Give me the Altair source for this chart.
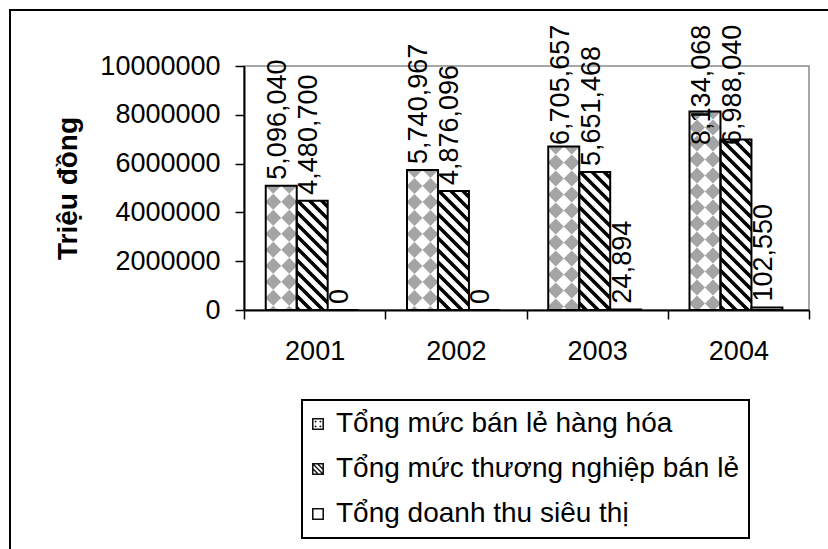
import altair as alt
import pandas as pd

# ---- data -------------------------------------------------------------
years = ["2001", "2002", "2003", "2004"]
series_names = [
    "Tổng mức bán lẻ hàng hóa",
    "Tổng mức thương nghiệp bán lẻ",
    "Tổng doanh thu siêu thị",
]
retail_goods = [5096040, 5740967, 6705657, 8134068]
retail_trade = [4480700, 4876096, 5651468, 6988040]
supermarket = [0, 0, 24894, 102550]
y_ticks = [0, 2000000, 4000000, 6000000, 8000000, 10000000]

rows = []
for name, vals in zip(series_names, [retail_goods, retail_trade, supermarket]):
    for yr, v in zip(years, vals):
        rows.append({"year": yr, "series": name, "value": v})
df = pd.DataFrame(rows)

FONT = "Liberation Sans, Arial, sans-serif"
LABEL_CAP = 6520000  # tall value labels stop growing upward here


# ---- fill patterns (symbol paths in pixel units, anchored at bar top) --
def clip_polygon(pts, x0, x1, y0, y1):
    def cut(points, inside, cross):
        out = []
        for i, cur in enumerate(points):
            prev = points[i - 1]
            if inside(cur):
                if not inside(prev):
                    out.append(cross(prev, cur))
                out.append(cur)
            elif inside(prev):
                out.append(cross(prev, cur))
        return out

    def at_x(k):
        return lambda p, q: (k, p[1] + (q[1] - p[1]) * (k - p[0]) / (q[0] - p[0]))

    def at_y(k):
        return lambda p, q: (p[0] + (q[0] - p[0]) * (k - p[1]) / (q[1] - p[1]), k)

    edges = [
        (lambda p: p[0] >= x0, at_x(x0)),
        (lambda p: p[0] <= x1, at_x(x1)),
        (lambda p: p[1] >= y0, at_y(y0)),
        (lambda p: p[1] <= y1, at_y(y1)),
    ]
    for inside, cross in edges:
        if not pts:
            break
        pts = cut(pts, inside, cross)
    return pts


def to_path(polys, digits=2):
    parts = []
    for poly in polys:
        if len(poly) >= 3:
            parts.append(
                "M" + "L".join(f"{x:.{digits}f},{y:.{digits}f}" for x, y in poly) + "Z"
            )
    return "".join(parts)


HALF_W, DEPTH = 15.5, 260

# diamond checkerboard
diamonds = []
for i in range(-2, 2):
    cx = 16 * i + 8
    for j in range(0, 18):
        cy = 16 * j
        d = [(cx, cy - 8), (cx + 8, cy), (cx, cy + 8), (cx - 8, cy)]
        diamonds.append(clip_polygon(d, -HALF_W, HALF_W, 0, DEPTH))
CHECKER = to_path(diamonds)

# diagonal hatching
stripes = []
for c in range(-36, 284, 12):
    s = [(-20, c - 20), (20, c + 20), (20, c + 25), (-20, c - 15)]
    stripes.append(clip_polygon(s, -HALF_W, HALF_W, 0, DEPTH))
HATCH = to_path(stripes)

# ---- legend icons (unit square, drawn with fill only) ------------------
RING = "M-1,-1L1,-1L1,1L-1,1ZM-0.74,-0.74L-0.74,0.74L0.74,0.74L0.74,-0.74Z"
icon_dots = []
for sx in (-1, 1):
    for sy in (-1, 1):
        cx, cy, r = 0.4 * sx, 0.4 * sy, 0.2
        icon_dots.append([(cx, cy - r), (cx + r, cy), (cx, cy + r), (cx - r, cy)])
icon_lines = []
for c in (-0.95, -0.15, 0.65):
    s = [(-2, c - 2), (2, c + 2), (2, c + 2.32), (-2, c - 1.68)]
    icon_lines.append(clip_polygon(s, -0.74, 0.74, -0.74, 0.74))
ICON_PATHS = [
    RING + to_path(icon_dots, 3),
    RING + to_path(icon_lines, 3),
    RING,
]

# ---- shared encodings ---------------------------------------------------
x_axis = alt.Axis(
    title=None, labelAngle=0, tickBand="extent", tickSize=9, tickColor="black",
    tickWidth=1.5, domainColor="black", domainWidth=2, labelFont=FONT,
    labelFontSize=27, labelColor="black", labelPadding=19, grid=False,
)
y_axis = alt.Axis(
    title="Triệu đồng", values=y_ticks, format="d", tickSize=9, tickColor="black",
    tickWidth=1.5, domainColor="black", domainWidth=2, labelFont=FONT,
    labelFontSize=27, labelColor="black", labelPadding=15, grid=False,
    titleFont=FONT, titleFontSize=28, titleFontWeight="bold", titleColor="black",
    titleX=-176, titleY=122, titleAngle=270, titleAlign="center",
    titleBaseline="middle",
)
x_scale = alt.Scale(paddingInner=0, paddingOuter=0)
off_scale = alt.Scale(domain=series_names, paddingInner=0, paddingOuter=0.78, align=0.45)
y_scale = alt.Scale(domain=[0, 10000000], nice=False)

x_enc = alt.X("year:N", scale=x_scale, axis=x_axis)
off_enc = alt.XOffset("series:N", scale=off_scale)
y_enc = alt.Y("value:Q", scale=y_scale, axis=y_axis)

base = alt.Chart(df)

bars = base.mark_bar(fill="white", strokeWidth=0).encode(
    x=x_enc, xOffset=off_enc, y=y_enc
)

checker = base.transform_filter(alt.datum.series == series_names[0]).mark_point(
    shape=CHECKER, size=4, filled=True, fill="#a4a4a4", strokeWidth=0,
    opacity=1, clip=True,
).encode(x=x_enc, xOffset=off_enc, y=y_enc)

hatch = base.transform_filter(alt.datum.series == series_names[1]).mark_point(
    shape=HATCH, size=4, filled=True, fill="black", strokeWidth=0,
    opacity=1, clip=True,
).encode(x=x_enc, xOffset=off_enc, y=y_enc)

outlines = base.mark_bar(fillOpacity=0, stroke="black", strokeWidth=2).encode(
    x=x_enc, xOffset=off_enc, y=y_enc
)

labels = base.transform_calculate(
    label_y=f"min(datum.value, {LABEL_CAP})"
).mark_text(
    angle=270, align="left", baseline="middle", dx=6, dy=-3,
    font=FONT, fontSize=27, color="black",
).encode(
    x=x_enc, xOffset=off_enc,
    y=alt.Y("label_y:Q", scale=y_scale, axis=y_axis),
    text=alt.Text("value:Q", format=",d"),
)

legend = alt.Legend(
    title=None, orient="none", legendX=58, legendY=334, labelFont=FONT,
    labelFontSize=28, labelColor="black", labelLimit=700,
    labelOffset=4, symbolOffset={"expr": "-8"},
    symbolSize=144, symbolFillColor="#111111",
    symbolStrokeWidth=0, symbolOpacity=1, rowPadding=17, padding=10,
    strokeColor="black", fillColor="white",
)
key = base.transform_filter("false").mark_point(
    filled=True, fill="#111111", strokeWidth=0, opacity=1
).encode(
    shape=alt.Shape(
        "series:N",
        scale=alt.Scale(domain=series_names, range=ICON_PATHS),
        legend=legend,
    ),
)

frame = alt.Chart(pd.DataFrame({"k": [0]})).mark_rect(
    fillOpacity=0, stroke="black", strokeWidth=2
).encode(
    x=alt.value(-234), x2=alt.value(600), y=alt.value(-56), y2=alt.value(500)
)

chart = (
    alt.layer(frame, bars, checker, hatch, outlines, labels, key)
    .properties(
        width=565,
        height=244,
        padding={"left": 244, "top": 66, "right": 19, "bottom": 239},
        autosize=alt.AutoSizeParams(type="none"),
        background="white",
    )
    .configure_view(fill="#c0c0c0", stroke="#8a8a8a", strokeWidth=1.5)
    .configure_legend(strokeWidth=2)
)

chart.save("out.html", embed_options={"renderer": "svg", "actions": False})
